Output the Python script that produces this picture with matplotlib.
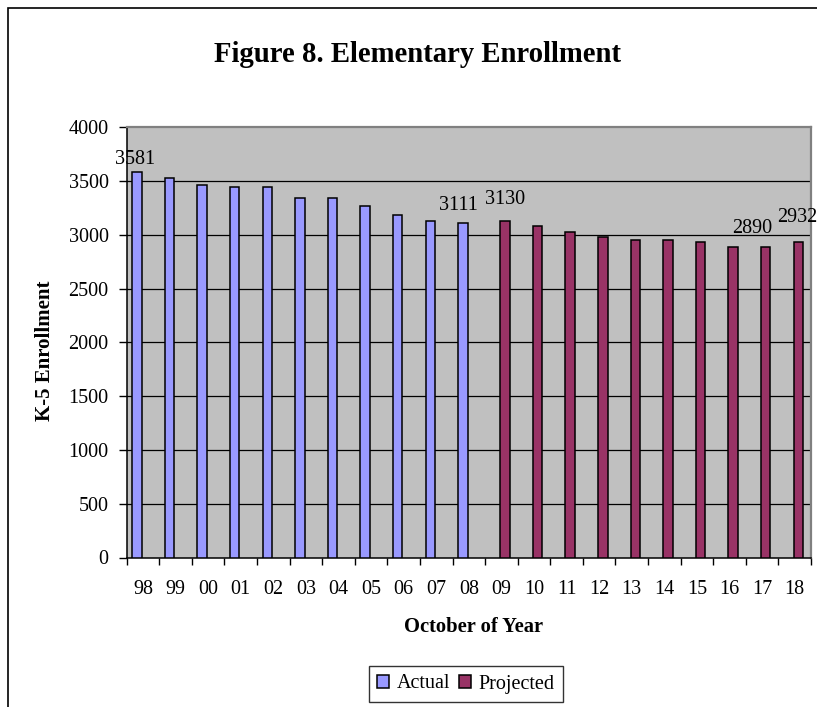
import matplotlib
matplotlib.use("Agg")
import matplotlib.pyplot as plt
from matplotlib.patches import Rectangle
import numpy as np

plt.rcParams['font.family'] = ['Liberation Serif', 'DejaVu Serif']

# Enrollment data
years = ["98", "99", "00", "01", "02", "03", "04", "05", "06", "07", "08",
         "09", "10", "11", "12", "13", "14", "15", "16", "17", "18"]
actual = [3581, 3530, 3462, 3445, 3443, 3340, 3340, 3272, 3185, 3125, 3111]
projected = [3130, 3080, 3027, 2977, 2950, 2950, 2932, 2890, 2890, 2932]

series_names = ["Actual", "Projected"]
title = "Figure 8. Elementary Enrollment"
xlabel = "October of Year"
ylabel = "K-5 Enrollment"

W, H = 817, 707
NUM_FS = 14.5
fig = plt.figure(figsize=(W / 100, H / 100), dpi=100)

# chart-area frame
fig.patches.append(Rectangle((8 / W, -0.05), 1.2, 1 - 8 / H + 0.05,
                             transform=fig.transFigure, fill=False,
                             edgecolor="black", linewidth=1.2))

ax = fig.add_axes([126.7 / W, 1 - 557.5 / H, (811 - 126.7) / W, (557.5 - 127.3) / H])
ax.set_facecolor("#C0C0C0")

n = len(years)
x = np.arange(n)
bw = 0.29
xa = x[:len(actual)] - 0.185
xp = x[len(actual):] + 0.11

bars_a = ax.bar(xa, actual, width=bw, color="#9999FF", edgecolor="black",
                linewidth=1.1, zorder=3, label=series_names[0])
bars_p = ax.bar(xp, projected, width=bw, color="#993366", edgecolor="black",
                linewidth=1.1, zorder=3, label=series_names[1])

ax.set_xlim(-0.5, n - 0.5)
ax.set_ylim(0, 4000)
ax.set_yticks(np.arange(0, 4001, 500))
ax.set_yticklabels([str(v) for v in range(0, 4001, 500)], fontsize=NUM_FS)
ax.set_xticks(x)
ax.set_xticklabels(years, fontsize=NUM_FS)
ax.set_xticks(np.arange(-0.5, n, 1.0), minor=True)
ax.tick_params(axis="x", which="major", length=0, pad=16.5)
ax.tick_params(axis="x", which="minor", length=5, width=1, color="black")
ax.tick_params(axis="y", length=6, width=1, pad=7)

for v in range(500, 4000, 500):
    ax.axhline(v, color="black", linewidth=0.9, zorder=1)

for side in ("top", "right"):
    ax.spines[side].set_color("#808080")
    ax.spines[side].set_linewidth(1.6)
for side in ("left", "bottom"):
    ax.spines[side].set_color("black")
    ax.spines[side].set_linewidth(1.1)

# value labels: (bar container, index, x offset px, y offset px)
label_specs = [
    (bars_a, 0, -2, 8),
    (bars_a, 10, -4, 13),
    (bars_p, 0, 0, 17),
    (bars_p, 8, -14, 14),
    (bars_p, 9, -1, 20),
]
for cont, i, dx, dy in label_specs:
    r = cont[i]
    ax.annotate(f"{int(r.get_height())}",
                xy=(r.get_x() + r.get_width() / 2, r.get_height()),
                xytext=(dx * 0.72, dy * 0.72), textcoords="offset points",
                ha="center", va="baseline", fontsize=NUM_FS, annotation_clip=False,
                zorder=5)

fig.text(418 / W, 1 - 62 / H, title, ha="center", va="baseline",
         fontsize=20.7, fontweight="bold")
fig.text(474 / W, 1 - 632 / H, xlabel, ha="center", va="baseline",
         fontsize=14.8, fontweight="bold")
fig.text(45 / W, 1 - 351 / H, ylabel, ha="center", va="center",
         rotation=90, fontsize=15, fontweight="bold")

leg = fig.legend(handles=[bars_a, bars_p], labels=series_names,
                 loc="center", bbox_to_anchor=(466 / W, 1 - 684 / H),
                 ncol=2, frameon=True, fancybox=False, fontsize=NUM_FS,
                 handlelength=0.6, handleheight=0.6, handletextpad=0.4,
                 columnspacing=0.4, borderpad=0.4, borderaxespad=0)
leg.get_frame().set_edgecolor("black")
leg.get_frame().set_linewidth(1.0)

fig.savefig("out.png", dpi=100)
